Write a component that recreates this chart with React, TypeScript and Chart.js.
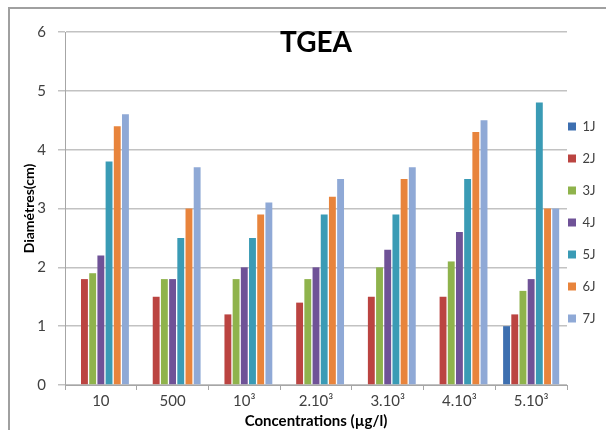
import React, { useEffect, useRef } from "react";
import { Chart, registerables } from "chart.js";

Chart.register(...registerables);

const categories = ["10", "500", "10³", "2.10³", "3.10³", "4.10³", "5.10³"];
const seriesNames = ["1J", "2J", "3J", "4J", "5J", "6J", "7J"];
const j1 = [0, 0, 0, 0, 0, 0, 1.0];
const j2 = [1.8, 1.5, 1.2, 1.4, 1.5, 1.5, 1.2];
const j3 = [1.9, 1.8, 1.8, 1.8, 2.0, 2.1, 1.6];
const j4 = [2.2, 1.8, 2.0, 2.0, 2.3, 2.6, 1.8];
const j5 = [3.8, 2.5, 2.5, 2.9, 2.9, 3.5, 4.8];
const j6 = [4.4, 3.0, 2.9, 3.2, 3.5, 4.3, 3.0];
const j7 = [4.6, 3.7, 3.1, 3.5, 3.7, 4.5, 3.0];
const yTicks = [0, 1, 2, 3, 4, 5, 6];

const seriesValues = [j1, j2, j3, j4, j5, j6, j7];
const seriesColors = ["#3d6fb0", "#bb4441", "#8fb34c", "#6f5297", "#3a9bb5", "#e8843c", "#8fa9d6"];

const FONT = "Lato, 'Open Sans', sans-serif";
const LEGEND_PAD = 19;

const legendShift = {
  id: "legendShift",
  afterLayout(chart: any) {
    const l = chart.legend;
    if (l) {
      const shift = LEGEND_PAD - 1;
      l.left -= shift;
      l.width += shift;
    }
  },
};

export default function App() {
  const ref = useRef<HTMLCanvasElement | null>(null);

  useEffect(() => {
    if (!ref.current) return;
    const chart = new Chart(ref.current, {
      type: "bar",
      data: {
        labels: categories,
        datasets: seriesNames.map((name, i) => ({
          label: name,
          data: seriesValues[i],
          backgroundColor: seriesColors[i],
          borderWidth: 0,
          categoryPercentage: 0.8,
          barPercentage: 0.84,
        })),
      },
      plugins: [legendShift],
      options: {
        animation: false,
        responsive: false,
        devicePixelRatio: 1,
        layout: { padding: 0 },
        scales: {
          x: {
            offset: true,
            grid: {
              display: true,
              drawOnChartArea: false,
              offset: true,
              tickLength: 5,
              color: "#a6a6a6",
              lineWidth: 1,
            },
            border: { color: "#a6a6a6", width: 1 },
            ticks: {
              font: { family: FONT, size: 15 },
              color: "#404040",
              padding: 2,
              maxRotation: 0,
              autoSkip: false,
            },
            title: {
              display: true,
              text: "Concentrations (µg/l)",
              font: { family: FONT, size: 15, weight: "bold" },
              color: "#000000",
              padding: { top: 0, bottom: 0 },
            },
            afterFit: (s: any) => {
              s.height = 45;
            },
          },
          y: {
            min: yTicks[0],
            max: yTicks[yTicks.length - 1],
            ticks: {
              stepSize: yTicks[1] - yTicks[0],
              font: { family: FONT, size: 15 },
              color: "#404040",
              padding: 12,
            },
            grid: { color: "#c2c2c2", lineWidth: 1.5, tickLength: 7 },
            border: { color: "#a6a6a6", width: 1 },
            title: {
              display: true,
              text: "Diamétres(cm)",
              font: { family: FONT, size: 14, weight: "bold" },
              color: "#000000",
              padding: { top: 21, bottom: 0 },
            },
            afterFit: (s: any) => {
              s.width = 65;
            },
          },
        },
        plugins: {
          title: {
            display: true,
            text: "TGEA",
            fullSize: false,
            font: { family: FONT, size: 28, weight: "bold" },
            color: "#000000",
            padding: { top: 26.2, bottom: -27.8 },
          },
          legend: {
            position: "right",
            align: "start",
            maxWidth: 39,
            labels: {
              boxWidth: 8,
              boxHeight: 8,
              padding: LEGEND_PAD,
              font: { family: FONT, size: 13 },
              color: "#404040",
            },
            title: {
              display: true,
              text: "",
              font: { family: FONT, size: 5 },
              padding: { top: 95, bottom: 0 },
            },
          },
          tooltip: { enabled: false },
        },
      } as any,
    });
    return () => chart.destroy();
  }, []);

  return (
    <div style={{ position: "absolute", left: 0, top: 0, width: 606, height: 430, overflow: "hidden", background: "#ffffff" }}>
      <canvas ref={ref} width={606} height={430} style={{ position: "absolute", left: 0, top: 0, width: 606, height: 430 }} />
      <div
        style={{
          position: "absolute",
          left: 8,
          top: 7,
          width: 598,
          height: 423,
          boxSizing: "border-box",
          borderTop: "2px solid #a0a0a0",
          borderLeft: "2px solid #a0a0a0",
          pointerEvents: "none",
        }}
      />
    </div>
  );
}
